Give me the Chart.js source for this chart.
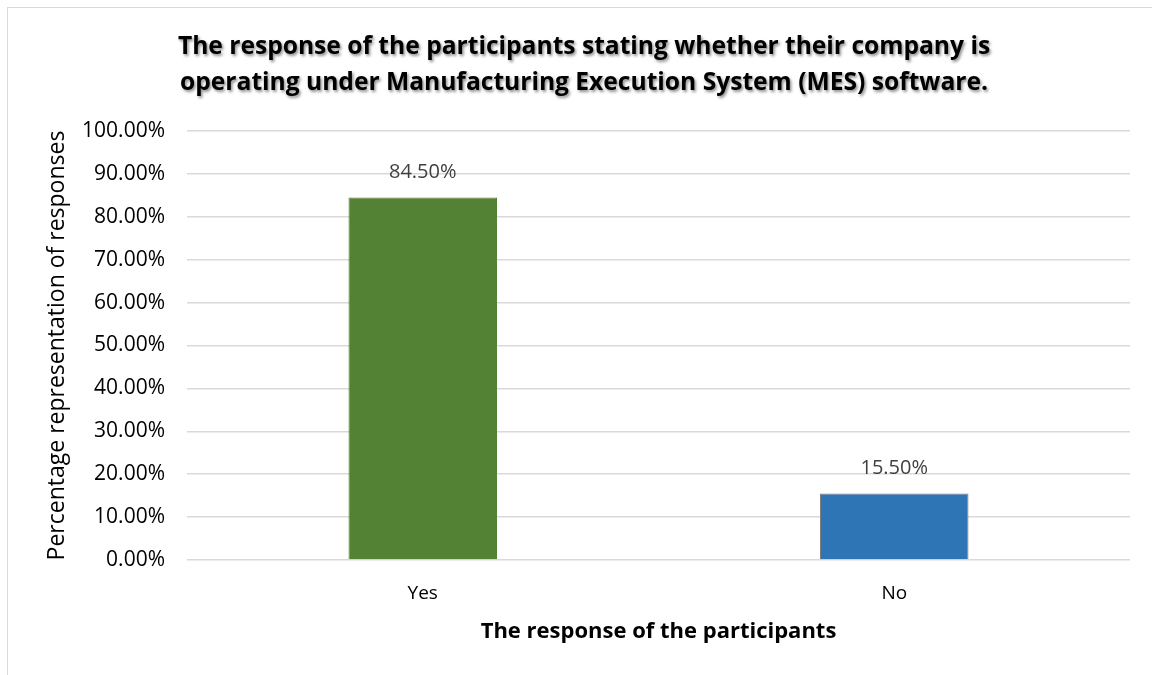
<!DOCTYPE html>
<html>
<head>
<meta charset="utf-8">
<script src="https://cdn.jsdelivr.net/npm/chart.js@4.4.1/dist/chart.umd.min.js"></script>
<style>
  html, body { margin: 0; padding: 0; background: #fff; }
  #wrap { position: relative; width: 1152px; height: 675px; }
  #frame { position: absolute; left: 7px; top: 7px; width: 1160px; height: 700px;
           border-top: 1px solid #d9d9d9; border-left: 1px solid #d9d9d9; }
  canvas { position: absolute; left: 0; top: 0; }
</style>
</head>
<body>
<div id="wrap">
  <div id="frame"></div>
  <canvas id="chart" width="1152" height="675"></canvas>
</div>
<script>
const categories = ["Yes", "No"];
const responses = [84.5, 15.5];
const barColors = ["#548235", "#2E75B6"];
const borderColors = ["#548235", "#7f7f7f"];
const titleLines = [
  "The response of the participants stating whether their company is",
  "operating under Manufacturing Execution System (MES) software."
];
const yTitle = "Percentage representation of responses";
const xTitle = "The response of the participants";

const font = "'Open Sans', 'Noto Sans', sans-serif";

// title with a soft shadow, like the office chart
const shadowTitle = {
  id: "shadowTitle",
  afterDraw(chart) {
    const ctx = chart.ctx;
    ctx.save();
    ctx.font = "bold 24.6px " + font;
    ctx.fillStyle = "#000";
    ctx.textAlign = "center";
    ctx.textBaseline = "middle";
    ctx.shadowColor = "rgba(0,0,0,0.45)";
    ctx.shadowBlur = 3;
    ctx.shadowOffsetX = 1.5;
    ctx.shadowOffsetY = 1.5;
    titleLines.forEach((t, i) => ctx.fillText(t, 584, 47 + i * 36));
    ctx.restore();
  }
};

// value labels above the bars
const barLabels = {
  id: "barLabels",
  afterDatasetsDraw(chart) {
    const ctx = chart.ctx;
    const meta = chart.getDatasetMeta(0);
    ctx.save();
    ctx.font = "20px " + font;
    ctx.fillStyle = "#404040";
    ctx.textAlign = "center";
    ctx.textBaseline = "middle";
    meta.data.forEach((bar, i) => {
      ctx.fillText(responses[i].toFixed(2) + "%", bar.x, bar.y - 25);
    });
    ctx.restore();
  }
};

new Chart(document.getElementById("chart"), {
  type: "bar",
  data: {
    labels: categories,
    datasets: [{
      data: responses,
      backgroundColor: barColors,
      borderColor: borderColors,
      borderWidth: 1,
      barPercentage: 0.63,
      categoryPercentage: 0.5
    }]
  },
  options: {
    responsive: false,
    animation: false,
    layout: { padding: { top: 131, right: 22, bottom: 26, left: 44 } },
    plugins: {
      legend: { display: false },
      tooltip: { enabled: false },
      title: { display: false }
    },
    scales: {
      y: {
        min: 0,
        max: 100,
        ticks: {
          stepSize: 10,
          color: "#000",
          font: { family: font, size: 21 },
          padding: 22,
          callback: (v) => v.toFixed(2) + "%"
        },
        grid: { color: "#d9d9d9", lineWidth: 1.5, drawTicks: false },
        border: { display: false },
        title: {
          display: true,
          text: yTitle,
          color: "#000",
          font: { family: font, size: 23 },
          padding: { top: 0, bottom: 0 }
        },
        afterFit: (scale) => { scale.width = 143; }
      },
      x: {
        ticks: {
          color: "#000",
          font: { family: font, size: 19 },
          padding: 14
        },
        grid: { display: false },
        border: { display: false },
        title: {
          display: true,
          text: xTitle,
          color: "#000",
          font: { family: font, size: 22, weight: "bold" },
          padding: { top: 10 }
        },
        afterFit: (scale) => { scale.height = 89; }
      }
    }
  },
  plugins: [shadowTitle, barLabels]
});
</script>
</body>
</html>
